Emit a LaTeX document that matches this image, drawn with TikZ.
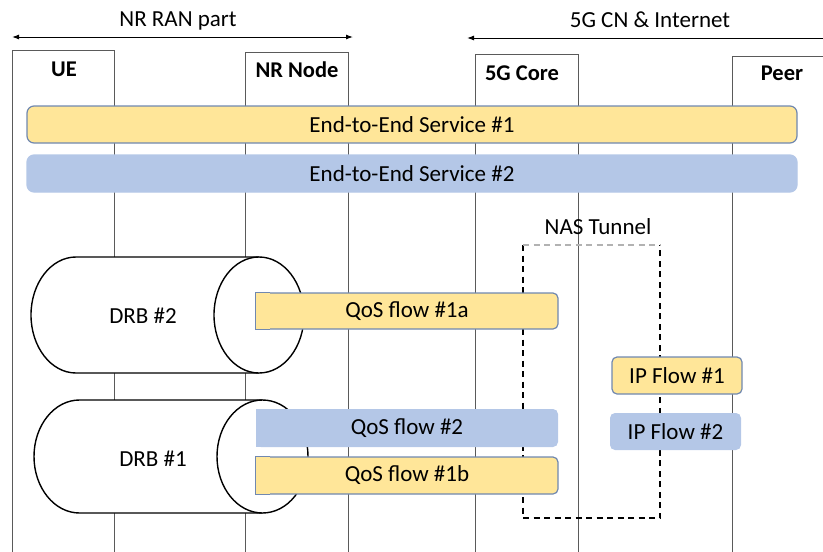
\documentclass[tikz,border=0pt]{standalone}
\usepackage{fontspec}
\setmainfont{Carlito}
\usetikzlibrary{arrows.meta}

\definecolor{flowyellow}{RGB}{255,230,153}
\definecolor{flowblue}{RGB}{180,199,231}
\definecolor{flowedge}{RGB}{112,136,176}
\definecolor{lifeline}{RGB}{90,90,90}

\tikzset{
  every node/.style={font=\fontsize{23}{27}\selectfont, inner sep=0pt},
  hdr/.style={font=\fontsize{22.5}{27}\selectfont\bfseries},
  life/.style={draw=lifeline, line width=1pt},
  span/.style={line width=1pt, {Latex[length=7pt,width=5pt]}-{Latex[length=7pt,width=5pt]}},
  ybar/.style={fill=flowyellow, draw=flowedge, line width=1.2pt, rounded corners=7pt},
  bbar/.style={fill=flowblue, draw=flowblue, line width=1.2pt, rounded corners=7pt},
  ybox/.style={fill=flowyellow, draw=flowedge, line width=1.2pt, rounded corners=5pt},
  bbox/.style={fill=flowblue, draw=none, rounded corners=5pt},
  drb/.style={draw=black, fill=white, line width=1.4pt},
  tunnel/.style={draw=black, line width=1.5pt, dash pattern=on 6pt off 4.5pt},
}

\begin{document}
\begin{tikzpicture}[x=1pt,y=-1pt]
\useasboundingbox (0,0) rectangle (823,552);

% domain spans
\coordinate (ranL) at (12,37);
\coordinate (ranR) at (353,37);
\draw[span] (ranL) -- (ranR);
\node (ranlbl) at (178,21) {NR RAN part};
\coordinate (cnL) at (467,38);
\coordinate (cnR) at (823,38);
\draw[line width=1pt, {Latex[length=7pt,width=5pt]}-] (cnL) -- (cnR);
\node (cnlbl) at (650,20) {5G CN \& Internet};

% entity columns (open boxes running to the bottom)
\draw[life] (12,552) |- (114,50) -- (114,552);
\draw[life] (245,552) |- (348,52) -- (348,552);
\draw[life] (475,552) |- (578,54) -- (578,552);
\draw[life] (732,552) |- (823,56);
\node[hdr] (ue) at (64,69) {UE};
\node[hdr] (nr) at (297,70) {NR Node};
\node[hdr] (core) at (522,73) {5G Core};
\node[hdr] (peer) at (782,73) {Peer};

% end-to-end services
\node[ybar, minimum width=770pt, minimum height=37pt] (e2e1) at (412,124.5) {End-to-End Service \#1};
\node[bbar, minimum width=770pt, minimum height=37pt] (e2e2) at (412,173.5) {End-to-End Service \#2};

% NAS tunnel
\draw[tunnel] (523,245) -- (523,518) -- (660,518) -- (660,245);
\draw[draw=black!30, line width=1.3pt, dash pattern=on 6pt off 4.5pt] (523,245) -- (660,245);
\node (naslbl) at (598,227) {NAS Tunnel};

% data radio bearers (horizontal cylinders)
\draw[drb] (259,257) -- (76,257) arc[start angle=270, end angle=90, x radius=45, y radius=58] -- (259,373);
\draw[drb] (259,315) ellipse[x radius=45, y radius=58];
\node (drb2) at (143,316) {DRB \#2};
\draw[drb] (262.5,400) -- (79.5,400) arc[start angle=270, end angle=90, x radius=45.5, y radius=56.5] -- (262.5,513);
\draw[drb] (262.5,456.5) ellipse[x radius=45.5, y radius=56.5];
\node (drb1) at (153,459) {DRB \#1};

% QoS flows (square at the bearer end)
\node[ybox, minimum width=302pt, minimum height=36pt] (q1a) at (407,311) {QoS flow \#1a};
\fill[flowyellow] ([xshift=0.6pt,yshift=-0.6pt]q1a.north west) rectangle ([xshift=15pt,yshift=0.6pt]q1a.south west);
\draw[draw=flowedge, line width=1.2pt] ([xshift=15pt]q1a.north west) -- (q1a.north west) -- (q1a.south west) -- ([xshift=15pt]q1a.south west);

\node[bbox, minimum width=302pt, minimum height=38pt] (q2) at (407,428) {QoS flow \#2};
\fill[flowblue] (q2.north west) rectangle ([xshift=15pt]q2.south west);

\node[ybox, minimum width=302pt, minimum height=37pt] (q1b) at (407,475.5) {QoS flow \#1b};
\fill[flowyellow] ([xshift=0.6pt,yshift=-0.6pt]q1b.north west) rectangle ([xshift=15pt,yshift=0.6pt]q1b.south west);
\draw[draw=flowedge, line width=1.2pt] ([xshift=15pt]q1b.north west) -- (q1b.north west) -- (q1b.south west) -- ([xshift=15pt]q1b.south west);

% IP flows
\node[ybox, minimum width=130pt, minimum height=37pt] (ip1) at (677,375.5) {IP Flow \#1};
\node[bbox, minimum width=131pt, minimum height=37pt] (ip2) at (675.5,431.5) {IP Flow \#2};
\end{tikzpicture}
\end{document}
